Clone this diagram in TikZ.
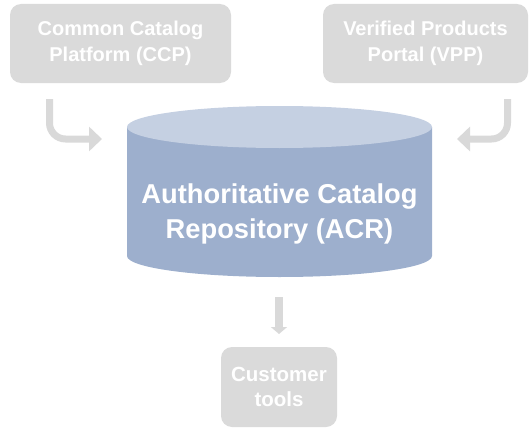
\documentclass[tikz,border=0pt]{standalone}
\usepackage{fontspec}
\setmainfont{Liberation Sans}
\usetikzlibrary{arrows.meta}
\definecolor{boxgray}{HTML}{DADADA}
\definecolor{arrowgray}{HTML}{D9D9D9}
\definecolor{cyltop}{HTML}{C5D0E2}
\definecolor{cylbody}{HTML}{9DAFCD}
\tikzset{
  srcbox/.style={fill=boxgray, rounded corners=11pt, text=white, align=center,
    font=\bfseries\fontsize{20}{26.5}\selectfont, inner sep=0pt},
  flowarrow/.style={draw=arrowgray, line width=7pt,
    -{Triangle[width=24pt,length=13pt]}},
  downarrow/.style={draw=arrowgray, line width=8pt,
    -{Triangle[width=16pt,length=7pt]}},
}
\begin{document}
\begin{tikzpicture}[x=1pt,y=-1pt]
  \useasboundingbox (0,0) rectangle (530,428);

  % source systems
  \node[srcbox, minimum width=221pt, minimum height=79pt] (ccp) at (120.5,43.5)
    {Common Catalog\\Platform (CCP)};
  \node[srcbox, minimum width=205pt, minimum height=79pt] (vpp) at (425.5,43.5)
    {Verified Products\\Portal (VPP)};

  % repository cylinder
  \fill[cylbody] (127,127) -- (127,256) arc[start angle=180, end angle=360,
    x radius=152.5pt, y radius=21pt] -- (432,127) -- cycle;
  \fill[cyltop] (279.5,127) ellipse[x radius=152.5pt, y radius=21pt];
  \node[text=white, align=center, font=\bfseries\fontsize{27.3}{35}\selectfont]
    (acr) at (279.5,214) {Authoritative Catalog\\Repository (ACR)};

  % consumer
  \node[srcbox, minimum width=116pt, minimum height=80pt,
    font=\bfseries\fontsize{20.5}{25}\selectfont] (tools) at (279,387)
    {Customer\\tools};

  % feed arrows
  \coordinate (ccpout) at (49.5,99);
  \coordinate (ccpin) at (102,139);
  \coordinate (vppout) at (507.5,99);
  \coordinate (vppin) at (457,139);
  \coordinate (acrout) at (279,297);
  \coordinate (toolsin) at (279,334);
  \draw[flowarrow, rounded corners=16pt] (ccpout) |- (ccpin);
  \draw[flowarrow, rounded corners=16pt] (vppout) |- (vppin);
  \draw[downarrow] (acrout) -- (toolsin);
\end{tikzpicture}
\end{document}
